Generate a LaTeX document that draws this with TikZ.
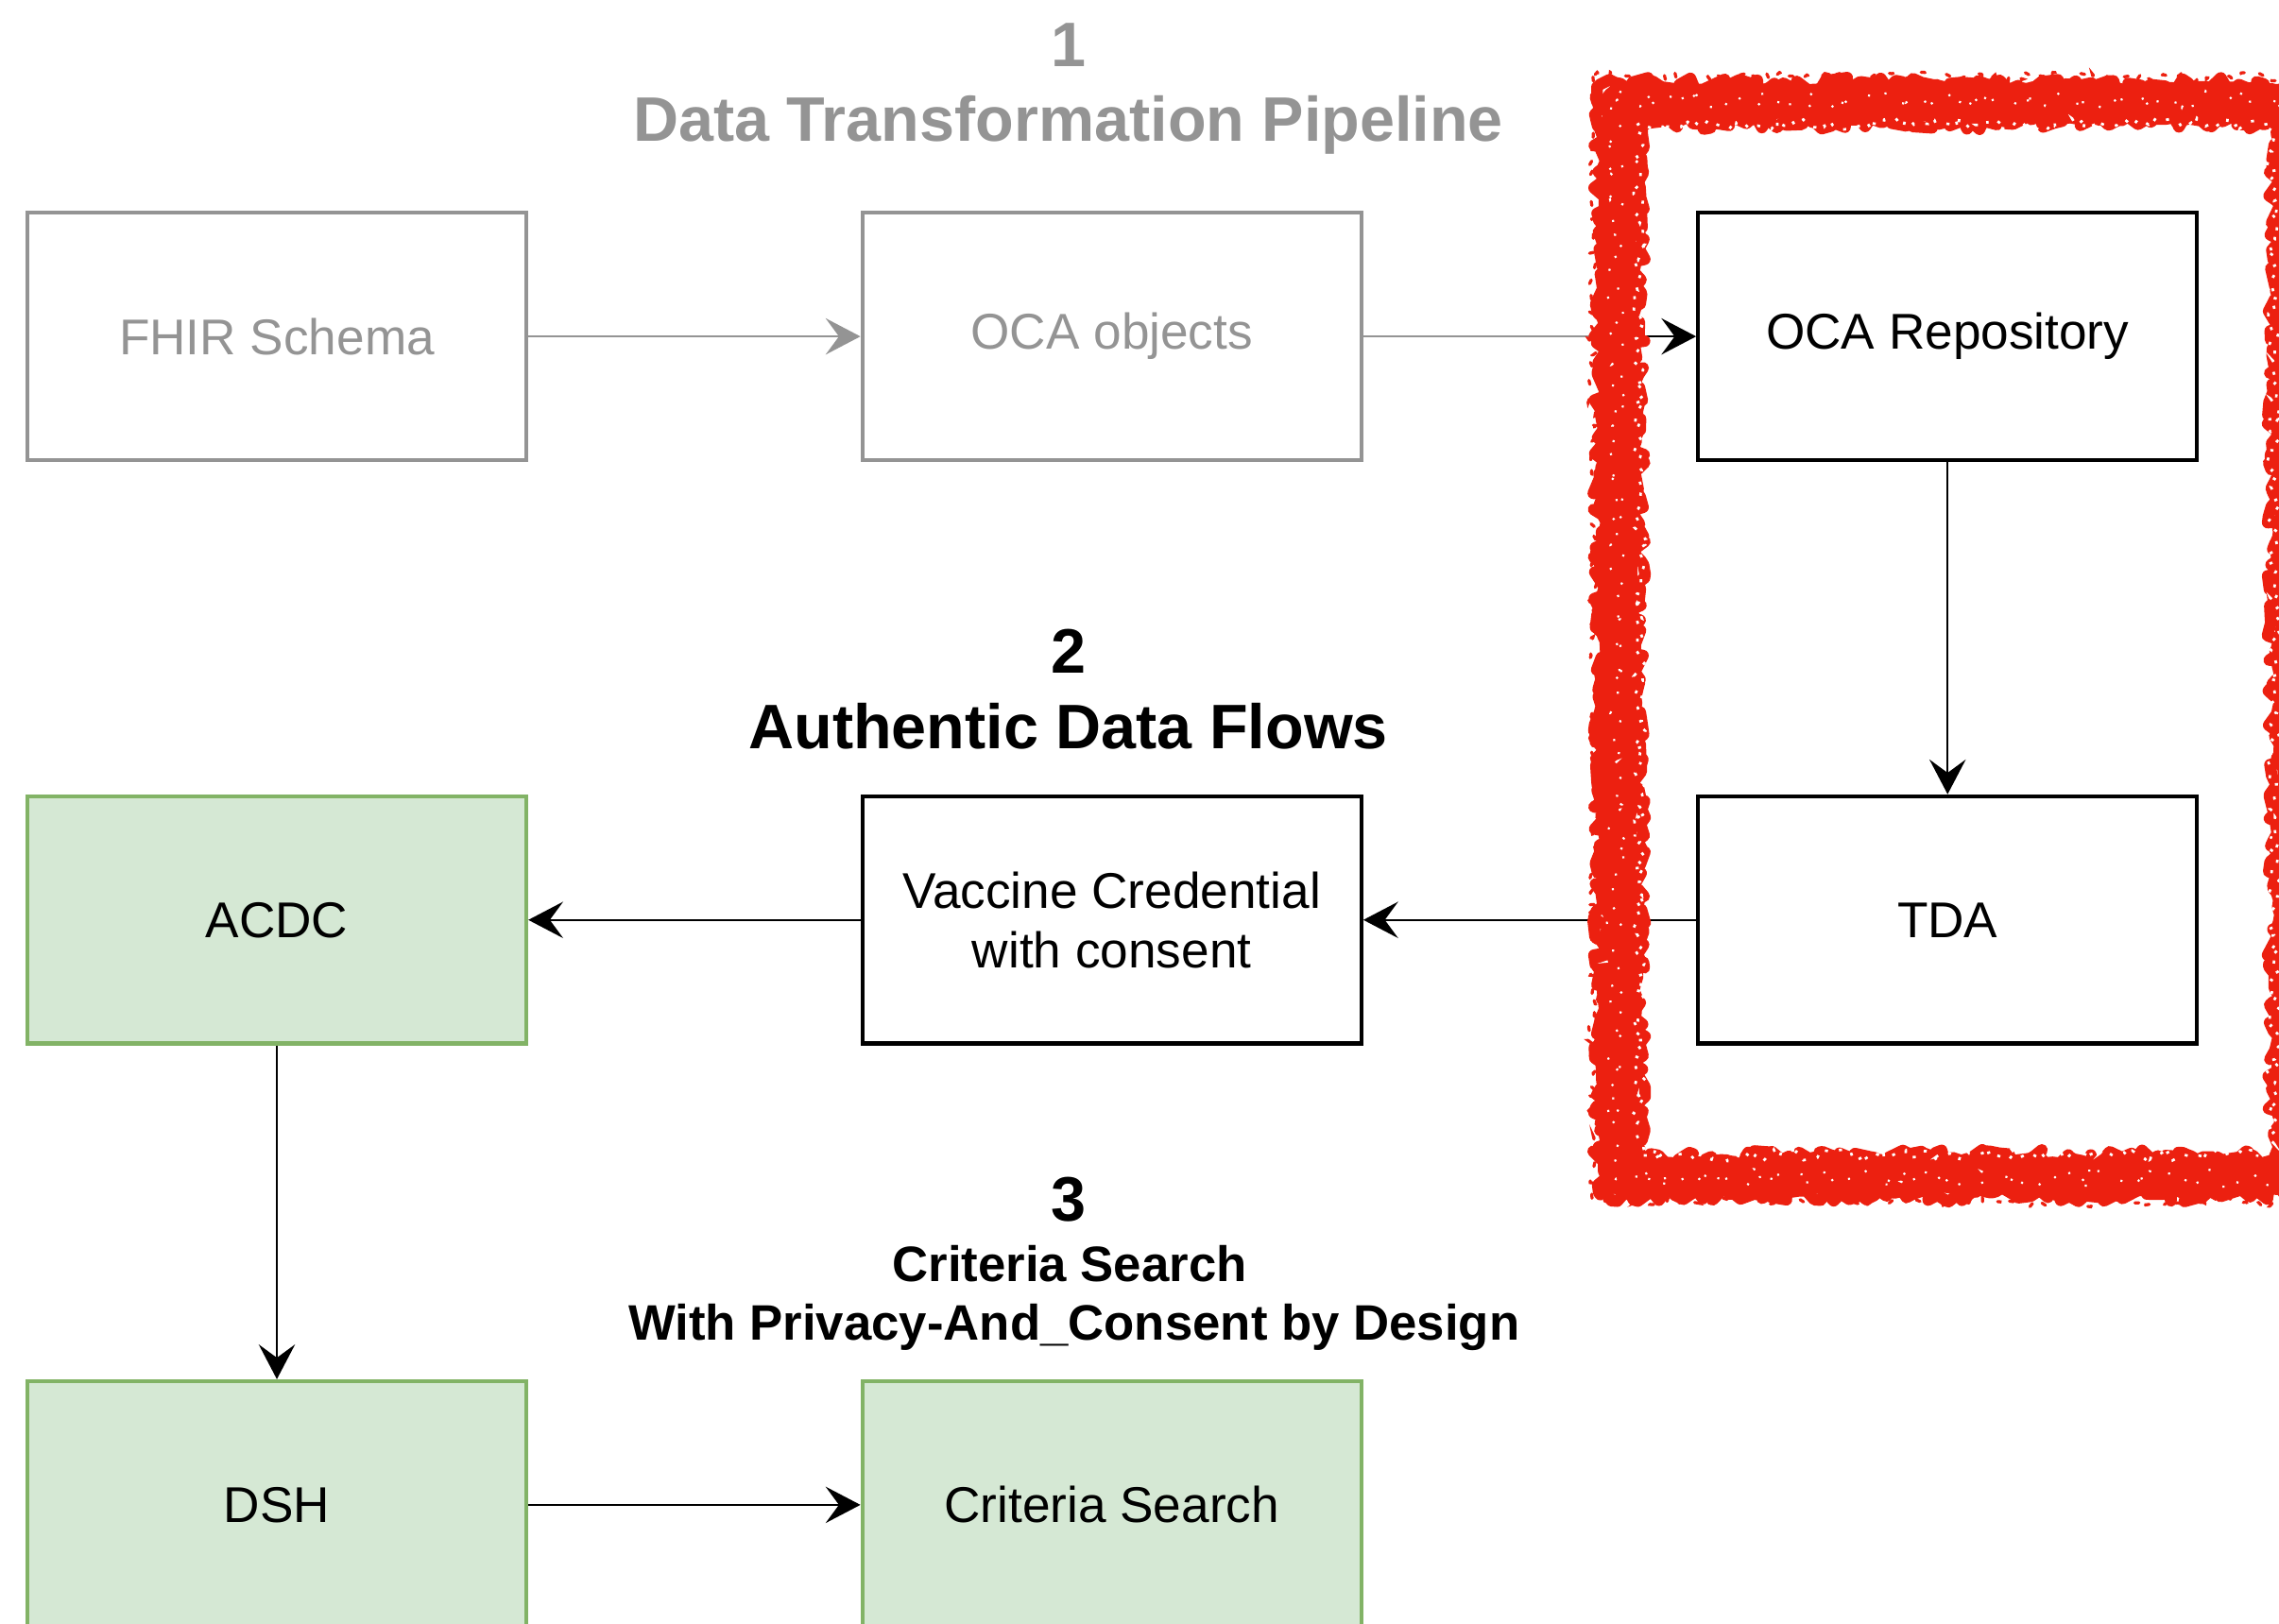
\documentclass[tikz,border=0pt]{standalone}
\usepackage{fontspec}
\setmainfont{Liberation Sans}
\usetikzlibrary{arrows.meta,decorations.pathmorphing}

\definecolor{fadedgray}{HTML}{949494}
\definecolor{leaf}{HTML}{D5E8D4}
\definecolor{leafline}{HTML}{82B366}
\definecolor{marker}{HTML}{EC2010}

\newcommand{\boxfont}{\fontsize{9.83pt}{11.7pt}\selectfont}
\newcommand{\headfont}{\fontsize{12.3pt}{14pt}\selectfont\bfseries}
\newcommand{\subheadfont}{\fontsize{9.75pt}{11.7pt}\selectfont\bfseries}

\begin{document}
\begin{tikzpicture}[x=0.01cm,y=-0.01cm,
  stage/.style={draw, line width=0.8pt, minimum width=3.43cm, minimum height=1.70cm,
                inner sep=0pt, align=center, font=\boxfont},
  faded/.style={stage, draw=fadedgray, text=fadedgray},
  active/.style={stage, draw=black, fill=white},
  approved/.style={stage, draw=leafline, fill=leaf},
  flow/.style={line width=0.45pt, -{Stealth[length=6.8pt,width=7.1pt,inset=2.6pt]}},
  heading/.style={anchor=base, font=\headfont, inner sep=0pt},
  subheading/.style={anchor=base, font=\subheadfont, inner sep=0pt},
  brushstroke/.style={draw=marker, line join=round, line cap=round, decorate},
  roughstroke/.style={brushstroke,
                      decoration={random steps, segment length=1.2pt, amplitude=1.4pt}},
]
\useasboundingbox (0,0) rectangle (1568,1117);
\clip (0,0) rectangle (1568,1117);

% section headings
\node[heading, text=fadedgray] (h1num) at (735,45.5) {1};
\node[heading, text=fadedgray] (h1) at (735,97.5) {Data Transformation Pipeline};
\node[heading] (h2num) at (735,463) {2};
\node[heading] (h2) at (735,515) {Authentic Data Flows};
\node[heading] (h3num) at (735,840) {3};
\node[subheading] (h3a) at (736,882) {Criteria Search};
\node[subheading] (h3b) at (739,922) {With Privacy-And\_Consent by Design};

% stages
\node[faded] (fhir) at (190.5,231.5) {FHIR Schema};
\node[faded] (oca) at (765,231.5) {OCA objects};
\node[active] (repo) at (1340,231.5) {OCA Repository};
\node[active] (tda) at (1340,633) {TDA};
\node[active] (vc) at (765,633) {Vaccine Credential\\with consent};
\node[approved] (acdc) at (190.5,633) {ACDC};
\node[approved] (dsh) at (190.5,1035.5) {DSH};
\node[approved] (crit) at (765,1035.5) {Criteria Search};

% connectors
\coordinate (entry) at (1100,231.5);
\draw[flow, fadedgray] (fhir) -- (oca);
\draw[line width=0.45pt, fadedgray] (oca.east) -- (entry);
\draw[flow] (entry) -- (repo.west);
\draw[flow] (repo) -- (tda);
\draw[flow] (tda) -- (vc);
\draw[flow] (vc) -- (acdc);
\draw[flow] (acdc) -- (dsh);
\draw[flow] (dsh) -- (crit);

% hand-drawn red marker frame
\pgfmathsetseed{4242}
\draw[brushstroke, line width=0.26cm,
      decoration={random steps, segment length=2pt, amplitude=0.8pt}]
  (1114,71) rectangle (1578,809);
\draw[roughstroke, line width=0.08cm] (1101,58) rectangle (1591,822);
\draw[roughstroke, line width=0.08cm] (1127,84) rectangle (1565,796);
% grain: light flecks inside the stroke, loose specks around it
\draw[white, line width=0.5pt, dash pattern=on 0.6pt off 2.2pt, decorate,
      decoration={random steps, segment length=1pt, amplitude=1.2pt}]
  (1128,85) rectangle (1564,795);
\draw[white, line width=0.4pt, dash pattern=on 0.4pt off 5pt, decorate,
      decoration={random steps, segment length=1pt, amplitude=2pt}]
  (1112,69) rectangle (1580,811);
\draw[marker, line width=0.6pt, dash pattern=on 0.8pt off 3pt, line cap=round, decorate,
      decoration={random steps, segment length=1pt, amplitude=1pt}]
  (1096,53) rectangle (1596,827);
\end{tikzpicture}
\end{document}
